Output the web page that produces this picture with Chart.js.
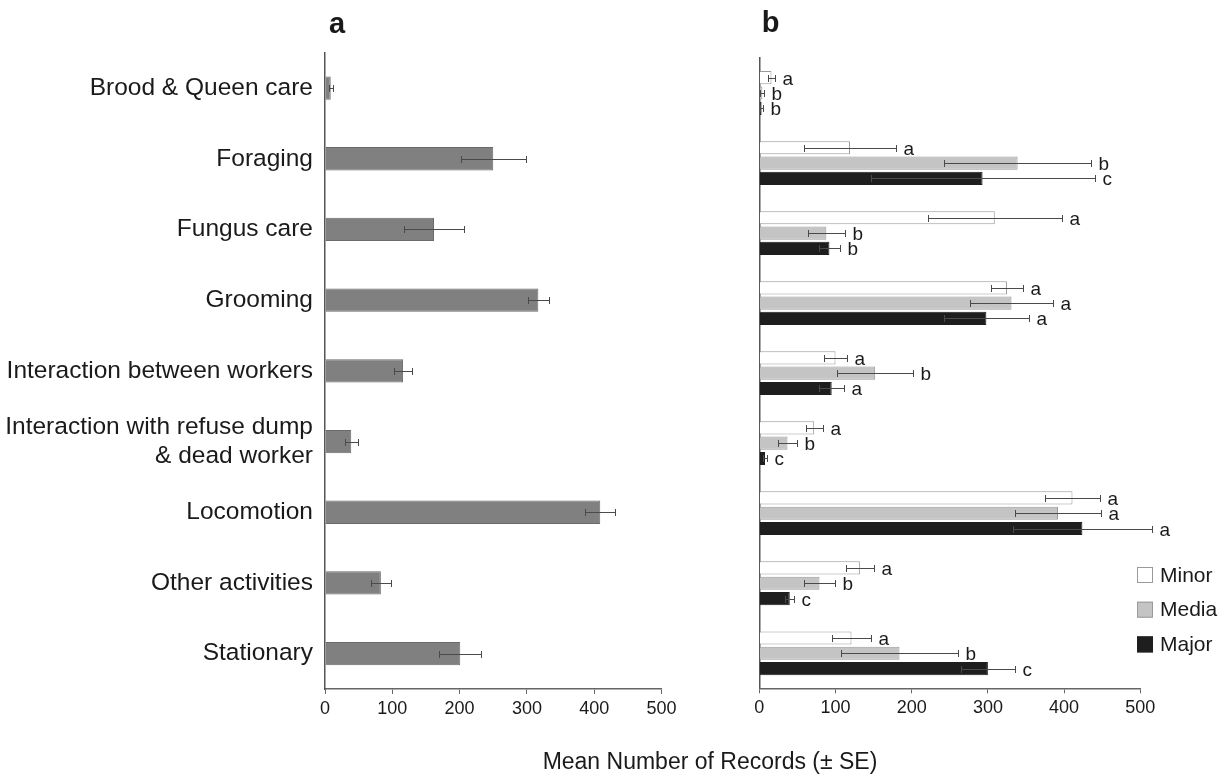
<!DOCTYPE html>
<html>
<head>
<meta charset="utf-8">
<script src="https://cdn.jsdelivr.net/npm/chart.js@4.4.1/dist/chart.umd.min.js"></script>
<style>
  html, body { margin: 0; padding: 0; background: #fff; }
  #wrap { position: relative; width: 1231px; height: 777px; }
  #wrap canvas { position: absolute; left: 0; top: 0; }
</style>
</head>
<body>
<div id="wrap">
  <canvas id="panelA" width="1231" height="777"></canvas>
  <canvas id="panelB" width="1231" height="777"></canvas>
</div>
<script>
// Behaviour categories (shared by both panels)
const categories = [
  'Brood & Queen care',
  'Foraging',
  'Fungus care',
  'Grooming',
  'Interaction between workers',
  ['Interaction with refuse dump', '& dead worker'],
  'Locomotion',
  'Other activities',
  'Stationary'
];

// Panel a: all workers pooled
const allMean = [8.5, 250, 162, 317, 116, 39, 409, 83, 201];
const allSE   = [3, 48, 44, 15.5, 13.5, 10, 22.5, 15, 31];

// Panel b: per worker caste
const casteNames = ['Minor', 'Media', 'Major'];
const minorMean = [16, 119, 309, 325, 100, 72, 411, 132, 121];
const minorSE   = [4, 60, 88, 20.5, 15, 11, 36, 18.5, 26];
const mediaMean = [4, 339, 88, 331, 152, 37, 392, 79, 184];
const mediaSE   = [2.5, 96, 24.5, 54, 50, 13, 56, 20.5, 76.5];
const majorMean = [3, 293, 92, 298, 95, 7.5, 424, 40, 300];
const majorSE   = [2, 147, 14, 56, 16.5, 3, 91, 6, 35];

// Significance letters
const minorLetters = ['a', 'a', 'a', 'a', 'a', 'a', 'a', 'a', 'a'];
const mediaLetters = ['b', 'b', 'b', 'a', 'b', 'b', 'a', 'b', 'b'];
const majorLetters = ['b', 'c', 'b', 'a', 'a', 'c', 'a', 'c', 'c'];

// Axis ticks
const xMin = 0, xMax = 500, xStep = 100;
const xTitle = 'Mean Number of Records (\u00B1 SE)';

const FONT = '"Liberation Sans", Arial, Helvetica, sans-serif';
const W = 1231, H = 777;

function fixWidth(w) { return function (scale) { scale.width = w; }; }
function fixHeight(h) { return function (scale) { scale.height = h; }; }

// Draws SE whiskers and optional letters after each bar
const errorBars = {
  id: 'errorBars',
  afterDatasetsDraw(chart) {
    const ctx = chart.ctx;
    const xs = chart.scales.x;
    chart.data.datasets.forEach((ds, di) => {
      const meta = chart.getDatasetMeta(di);
      meta.data.forEach((bar, i) => {
        const m = ds.data[i], se = ds.se[i];
        const xl = Math.round(xs.getPixelForValue(m - se)) + 0.5;
        const xr = Math.round(xs.getPixelForValue(m + se)) + 0.5;
        const y = Math.round(bar.y) + 0.5;
        ctx.save();
        ctx.strokeStyle = '#4a4a4a';
        ctx.lineWidth = 1;
        ctx.beginPath();
        ctx.moveTo(xl, y); ctx.lineTo(xr, y);
        ctx.moveTo(xl, y - 3.5); ctx.lineTo(xl, y + 3.5);
        ctx.moveTo(xr, y - 3.5); ctx.lineTo(xr, y + 3.5);
        ctx.stroke();
        if (ds.letters) {
          ctx.fillStyle = '#1a1a1a';
          ctx.font = '19px ' + FONT;
          ctx.textAlign = 'left';
          ctx.textBaseline = 'middle';
          ctx.fillText(ds.letters[i], xr + 7, y + 1);
        }
        ctx.restore();
      });
    });
  }
};

// Free text: panel letters and the shared axis title
const freeText = {
  id: 'freeText',
  afterDraw(chart, args, opts) {
    const ctx = chart.ctx;
    (opts.items || []).forEach(t => {
      ctx.save();
      ctx.fillStyle = t.color || '#1a1a1a';
      ctx.font = t.font;
      ctx.textAlign = t.align || 'center';
      ctx.textBaseline = t.baseline || 'alphabetic';
      ctx.fillText(t.text, t.x, t.y);
      ctx.restore();
    });
  }
};

// Caste legend drawn as swatches with labels
const casteLegend = {
  id: 'casteLegend',
  afterDraw(chart, args, opts) {
    const ctx = chart.ctx;
    chart.data.datasets.forEach((ds, i) => {
      const y = opts.y + i * opts.step;
      ctx.save();
      ctx.fillStyle = ds.backgroundColor;
      ctx.fillRect(opts.x, y, opts.size, opts.size);
      ctx.strokeStyle = ds.borderColor;
      ctx.lineWidth = 1;
      ctx.strokeRect(opts.x + 0.5, y + 0.5, opts.size - 1, opts.size - 1);
      ctx.fillStyle = '#1a1a1a';
      ctx.font = '21px ' + FONT;
      ctx.textAlign = 'left';
      ctx.textBaseline = 'middle';
      ctx.fillText(ds.label, opts.x + opts.size + 7, y + opts.size / 2 + 1);
      ctx.restore();
    });
  }
};

function xScale(height) {
  return {
    type: 'linear',
    min: xMin, max: xMax,
    ticks: { stepSize: xStep, font: { size: 18, family: FONT }, color: '#1a1a1a', padding: 4 },
    grid: { drawOnChartArea: false, drawTicks: true, tickLength: 5, color: '#666' },
    border: { display: true, color: '#666', width: 1.5 },
    afterFit: fixHeight(height)
  };
}

// Panel a
new Chart(document.getElementById('panelA'), {
  type: 'bar',
  data: {
    labels: categories,
    datasets: [{
      label: 'All workers',
      data: allMean,
      se: allSE,
      backgroundColor: '#808080',
      borderColor: '#6a6a6a',
      borderWidth: 1,
      barPercentage: 0.33,
      categoryPercentage: 1
    }]
  },
  options: {
    indexAxis: 'y',
    responsive: false,
    animation: false,
    devicePixelRatio: 1,
    layout: { padding: { left: 0, top: 52.7, right: W - 661.5, bottom: 0 } },
    plugins: {
      legend: { display: false },
      tooltip: { enabled: false },
      freeText: { items: [{ text: 'a', x: 337, y: 33, font: 'bold 29px ' + FONT }] }
    },
    scales: {
      x: xScale(H - 689),
      y: {
        ticks: { font: { size: 24.5, family: FONT }, color: '#1a1a1a', padding: 12 },
        grid: { display: false, drawTicks: false },
        border: { display: true, color: '#555', width: 1.5 },
        afterFit: fixWidth(325)
      }
    }
  },
  plugins: [errorBars, freeText]
});

// Panel b
const casteMeans = [minorMean, mediaMean, majorMean];
const casteSEs = [minorSE, mediaSE, majorSE];
const casteLetters = [minorLetters, mediaLetters, majorLetters];
const casteFill = ['#ffffff', '#c4c4c4', '#1e1e1e'];
const casteEdge = ['#9a9a9a', '#9a9a9a', '#1e1e1e'];

new Chart(document.getElementById('panelB'), {
  type: 'bar',
  data: {
    labels: categories,
    datasets: casteNames.map((name, i) => ({
      label: name,
      data: casteMeans[i],
      se: casteSEs[i],
      letters: casteLetters[i],
      backgroundColor: casteFill[i],
      borderColor: casteEdge[i],
      borderWidth: 1,
      barPercentage: 0.86,
      categoryPercentage: 0.656
    }))
  },
  options: {
    indexAxis: 'y',
    responsive: false,
    animation: false,
    devicePixelRatio: 1,
    layout: { padding: { left: 0, top: 58, right: W - 1140.3, bottom: 0 } },
    plugins: {
      legend: { display: false },
      tooltip: { enabled: false },
      casteLegend: { x: 1137, y: 567, step: 34.7, size: 16 },
      freeText: {
        items: [
          { text: 'b', x: 770.5, y: 32, font: 'bold 29px ' + FONT },
          { text: xTitle, x: 710, y: 769, font: '23px ' + FONT }
        ]
      }
    },
    scales: {
      x: xScale(H - 688.3),
      y: {
        ticks: { display: false },
        grid: { display: false, drawTicks: false },
        border: { display: true, color: '#555', width: 1.5 },
        afterFit: fixWidth(759.3)
      }
    }
  },
  plugins: [errorBars, freeText, casteLegend]
});
</script>
</body>
</html>
